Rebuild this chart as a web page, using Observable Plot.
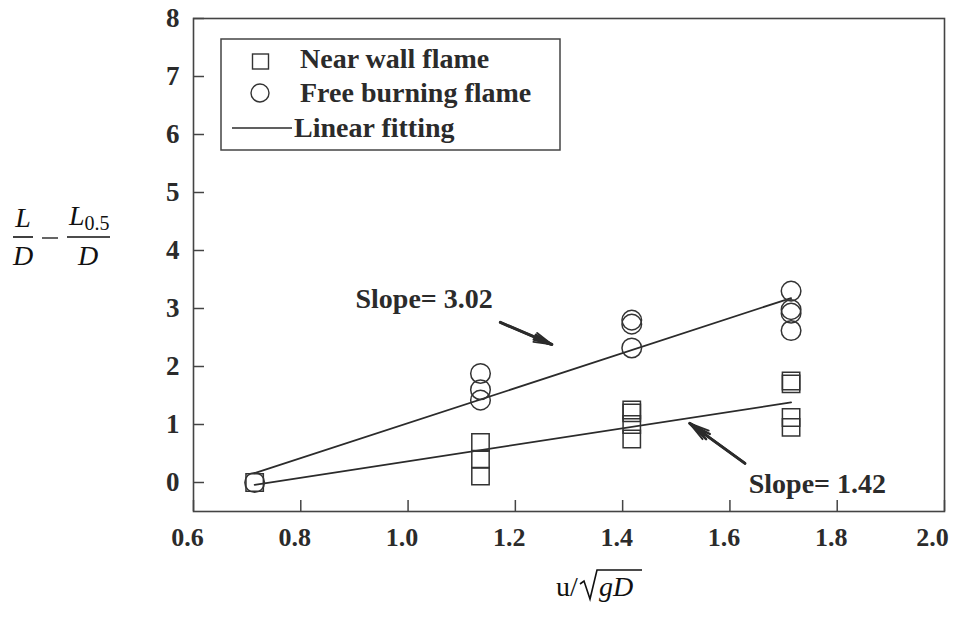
<!DOCTYPE html>
<html>
<head>
<meta charset="utf-8">
<script src="https://cdn.jsdelivr.net/npm/d3@7"></script>
<script src="https://cdn.jsdelivr.net/npm/@observablehq/plot@0.6"></script>
<style>
  html, body { margin: 0; padding: 0; background: #fff; }
  #wrap { position: relative; width: 953px; height: 619px; overflow: hidden; }
  #wrap > svg { position: absolute; left: 0; top: 0; }
  #overlay { position: absolute; left: 0; top: 0; pointer-events: none; }
</style>
</head>
<body>
<div id="wrap"></div>
<script>
// ---- data ----
const nearX = [0.714, 1.135, 1.135, 1.135, 1.417, 1.417, 1.417, 1.417, 1.714, 1.714, 1.714, 1.714];
const nearY = [0.00, 0.69, 0.40, 0.11, 1.25, 1.20, 1.00, 0.75, 1.75, 1.70, 1.12, 0.95];
const freeX = [0.714, 1.135, 1.135, 1.135, 1.417, 1.417, 1.417, 1.714, 1.714, 1.714, 1.714];
const freeY = [0.00, 1.88, 1.60, 1.42, 2.80, 2.73, 2.32, 3.30, 2.98, 2.92, 2.62];
const fitX = [0.714, 1.714];
const fitFreeY = [0.16, 3.18];
const fitNearY = [-0.04, 1.38];
const xTicks = [0.6, 0.8, 1.0, 1.2, 1.4, 1.6, 1.8, 2.0];
const yTicks = [0, 1, 2, 3, 4, 5, 6, 7, 8];
const noteLabels = ["Slope= 3.02", "Slope= 1.42"];
const noteX = [0.902, 1.635];
const noteY = [3.17, -0.02];
const arrowFromX = [1.172, 1.628];
const arrowFromY = [2.76, 0.33];
const arrowToX = [1.268, 1.525];
const arrowToY = [2.38, 1.02];
const legendLabels = ["Near wall flame", "Free burning flame", "Linear fitting"];

// ---- tables built from the arrays ----
const near = nearX.map((x, i) => ({x, y: nearY[i]}));
const free = freeX.map((x, i) => ({x, y: freeY[i]}));
const fitFree = fitX.map((x, i) => ({x, y: fitFreeY[i]}));
const fitNear = fitX.map((x, i) => ({x, y: fitNearY[i]}));
const notes = noteLabels.map((t, i) => ({t, x: noteX[i], y: noteY[i]}));
const arrows = arrowFromX.map((x1, i) => ({x1, y1: arrowFromY[i], x2: arrowToX[i], y2: arrowToY[i]}));
const xTicksInner = xTicks.slice(0, -1);
const xTicksLast = xTicks.slice(-1);

const W = 953, H = 619;
const mL = 193, mR = 9, mT = 18, mB = 108;
const pw = W - mL - mR, ph = H - mT - mB;
const ink = "#2b2b2b";
const serif = "'Liberation Serif', 'Times New Roman', serif";

const chart = Plot.plot({
  width: W, height: H,
  marginLeft: mL, marginRight: mR, marginTop: mT, marginBottom: mB,
  x: {domain: [0.6, 2.0]},
  y: {domain: [-0.5, 8]},
  style: {fontFamily: serif, fontWeight: "bold", fontSize: "27px", color: ink, background: "white", overflow: "visible"},
  marks: [
    Plot.frame({stroke: "#444", strokeWidth: 1.6}),
    Plot.tickX(xTicks, {x: d => d, insetTop: ph - 11, stroke: "#444", strokeWidth: 1.5}),
    Plot.tickY(yTicks, {y: d => d, insetRight: pw - 11, stroke: "#444", strokeWidth: 1.5}),
    Plot.axisX({ticks: xTicksInner, tickSize: 0, tickPadding: 16, dx: -6, tickFormat: d3.format(".1f"), fontSize: 26, fill: ink}),
    Plot.axisX({ticks: xTicksLast, tickSize: 0, tickPadding: 16, dx: -12, tickFormat: d3.format(".1f"), fontSize: 26, fill: ink}),
    Plot.axisY({ticks: yTicks, tickSize: 0, tickPadding: 14, tickFormat: d3.format("d"), fontSize: 27, fill: ink}),
    Plot.line(fitFree, {x: "x", y: "y", stroke: ink, strokeWidth: 1.8}),
    Plot.line(fitNear, {x: "x", y: "y", stroke: ink, strokeWidth: 1.8}),
    Plot.dot(near, {x: "x", y: "y", symbol: "square", r: 9.8, stroke: "#333", strokeWidth: 1.5, fill: "none"}),
    Plot.dot(free, {x: "x", y: "y", symbol: "circle", r: 9.8, stroke: "#333", strokeWidth: 1.5, fill: "none"}),
    Plot.arrow(arrows, {x1: "x1", y1: "y1", x2: "x2", y2: "y2", stroke: ink, strokeWidth: 1.8, headLength: 17, headAngle: 30}),
    Plot.arrow(arrows, {x1: "x1", y1: "y1", x2: "x2", y2: "y2", stroke: ink, strokeWidth: 2.5, headLength: 14, headAngle: 16}),
    Plot.arrow(arrows, {x1: "x1", y1: "y1", x2: "x2", y2: "y2", stroke: ink, strokeWidth: 3, headLength: 9, headAngle: 8}),
    Plot.text(notes, {x: "x", y: "y", text: "t", textAnchor: "start", fontSize: 28, fontWeight: "bold", fill: ink})
  ]
});
const wrap = document.getElementById("wrap");
wrap.appendChild(chart);

// ---- overlay: legend and math axis titles ----
const ov = d3.select(wrap).append("svg").attr("id", "overlay").attr("width", W).attr("height", H);

// legend box
const lg = ov.append("g");
lg.append("rect").attr("x", 221).attr("y", 39).attr("width", 339).attr("height", 111)
  .attr("fill", "white").attr("stroke", "#444").attr("stroke-width", 1.5);
lg.append("rect").attr("x", 252.5).attr("y", 54).attr("width", 16).attr("height", 15)
  .attr("fill", "none").attr("stroke", "#333").attr("stroke-width", 1.4);
lg.append("circle").attr("cx", 260).attr("cy", 93).attr("r", 9)
  .attr("fill", "none").attr("stroke", "#333").attr("stroke-width", 1.4);
lg.append("line").attr("x1", 232).attr("x2", 292).attr("y1", 128).attr("y2", 128)
  .attr("stroke", ink).attr("stroke-width", 1.6);
const lgBase = [68, 102, 137];
legendLabels.forEach((t, i) => {
  lg.append("text").attr("x", i === 2 ? 294 : 300).attr("y", lgBase[i])
    .attr("font-family", serif).attr("font-weight", "bold").attr("font-size", 28)
    .attr("fill", ink).text(t);
});

// y-axis title: L/D − L0.5/D
const yt = ov.append("g").attr("font-family", "'Liberation Serif', serif").attr("font-size", 28).attr("fill", "#111");
yt.append("text").attr("x", 23).attr("y", 227).attr("text-anchor", "middle").attr("font-style", "italic").text("L");
yt.append("line").attr("x1", 13).attr("x2", 33).attr("y1", 237).attr("y2", 237).attr("stroke", "#111").attr("stroke-width", 1.6);
yt.append("text").attr("x", 23).attr("y", 265).attr("text-anchor", "middle").attr("font-style", "italic").text("D");
yt.append("line").attr("x1", 42).attr("x2", 58).attr("y1", 238).attr("y2", 238).attr("stroke", "#111").attr("stroke-width", 1.3);
const l2 = yt.append("text").attr("x", 69).attr("y", 225).attr("font-style", "italic");
l2.append("tspan").text("L");
l2.append("tspan").attr("font-style", "normal").attr("font-size", 20).attr("dy", 5).text("0.5");
yt.append("line").attr("x1", 67).attr("x2", 110).attr("y1", 237).attr("y2", 237).attr("stroke", "#111").attr("stroke-width", 1.6);
yt.append("text").attr("x", 88).attr("y", 265).attr("text-anchor", "middle").attr("font-style", "italic").text("D");

// x-axis title: u/√(gD)
const xt = ov.append("g").attr("font-family", "'Liberation Serif', serif").attr("font-size", 28).attr("fill", "#111");
xt.append("text").attr("x", 556).attr("y", 596).text("u/");
xt.append("path").attr("d", "M580,584 L584,581 L590,599 L597,570 L642,570")
  .attr("fill", "none").attr("stroke", "#111").attr("stroke-width", 1.6);
xt.append("text").attr("x", 599).attr("y", 596).attr("font-style", "italic").text("gD");
</script>
</body>
</html>
